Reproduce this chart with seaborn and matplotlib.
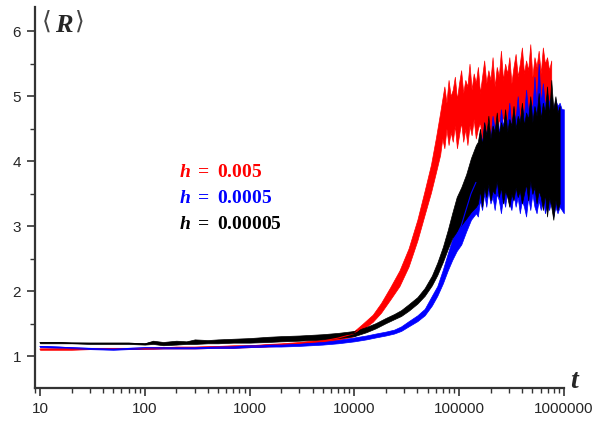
import numpy as np
import pandas as pd
import seaborn as sns
import matplotlib.pyplot as plt
from matplotlib.ticker import LogLocator, MultipleLocator, FixedLocator, NullFormatter


# ----------------------------
# Data: lower / upper edge of each trace
# smooth part (t, lo, hi) + noisy part on a fine grid of log10(t)
# ----------------------------

t_red = [10, 15, 20, 30, 50, 70, 100, 150, 200, 300, 500, 700, 1000, 1500, 2000, 3000, 5000, 7000,
         10000, 12000, 15000, 18000, 22000, 27000, 33000, 40000, 47000, 54000, 60000]
red_lo = [1.10, 1.10, 1.10, 1.11, 1.11, 1.11, 1.11, 1.12, 1.12, 1.12, 1.13, 1.13, 1.14, 1.15, 1.16, 1.18, 1.21, 1.25,
          1.31, 1.41, 1.53, 1.67, 1.87, 2.08, 2.38, 2.78, 3.18, 3.52, 3.82]
red_hi = [1.12, 1.12, 1.12, 1.13, 1.13, 1.13, 1.13, 1.14, 1.15, 1.15, 1.16, 1.17, 1.17, 1.19, 1.20, 1.22, 1.26, 1.31,
          1.39, 1.50, 1.64, 1.82, 2.06, 2.32, 2.66, 3.10, 3.55, 3.95, 4.35]
logt_red_noise = [4.82, 4.84, 4.86, 4.88, 4.90, 4.92, 4.94, 4.96, 4.98, 5.00,
                  5.02, 5.04, 5.06, 5.08, 5.10, 5.12, 5.14, 5.16, 5.18, 5.20,
                  5.22, 5.24, 5.26, 5.28, 5.30, 5.32, 5.34, 5.36, 5.38, 5.40,
                  5.42, 5.44, 5.46, 5.48, 5.50, 5.52, 5.54, 5.56, 5.58, 5.60,
                  5.62, 5.64, 5.66, 5.68, 5.70, 5.72, 5.74, 5.76, 5.78, 5.80,
                  5.82, 5.84, 5.86, 5.88]
red_noise_lo = [4.10, 4.35, 4.20, 4.50, 4.25, 4.45, 4.30, 4.55, 4.20, 4.40,
                4.60, 4.30, 4.50, 4.25, 4.55, 4.40, 4.65, 4.35, 4.50, 4.60,
                4.30, 4.55, 4.45, 4.70, 4.40, 4.60, 4.50, 4.35, 4.65, 4.55,
                4.70, 4.45, 4.60, 4.75, 4.50, 4.65, 4.40, 4.70, 4.55, 4.80,
                4.60, 4.70, 4.50, 4.75, 4.65, 4.80, 4.55, 4.70, 4.60, 4.75,
                4.65, 4.80, 4.70, 4.75]
red_noise_hi = [4.75, 4.95, 5.15, 4.90, 5.25, 5.00, 5.10, 5.30, 4.95, 5.20,
                5.40, 5.05, 5.25, 5.15, 5.50, 5.10, 5.35, 5.20, 5.45, 5.05,
                5.30, 5.55, 5.20, 5.40, 5.25, 5.60, 5.15, 5.45, 5.30, 5.70,
                5.25, 5.50, 5.35, 5.60, 5.20, 5.45, 5.65, 5.30, 5.50, 5.75,
                5.35, 5.55, 5.40, 5.80, 5.30, 5.60, 5.45, 5.70, 5.35, 5.75,
                5.50, 5.60, 5.40, 5.55]

t_blue = [10, 15, 20, 30, 50, 70, 100, 150, 200, 300, 500, 700, 1000, 1500, 2000, 3000, 5000, 7000,
          10000, 13000, 16000, 20000, 24000, 28000, 33000, 40000, 47000, 55000, 62000, 70000, 78000,
          86000, 95000, 105000, 117000, 130000, 145000]
blue_lo = [1.14, 1.13, 1.12, 1.11, 1.10, 1.11, 1.12, 1.12, 1.12, 1.12, 1.13, 1.13, 1.14, 1.15, 1.15, 1.16, 1.18, 1.20,
           1.23, 1.26, 1.29, 1.32, 1.35, 1.39, 1.46, 1.54, 1.63, 1.78, 1.93, 2.12, 2.32,
           2.48, 2.62, 2.72, 2.92, 3.10, 3.20]
blue_hi = [1.16, 1.15, 1.14, 1.13, 1.12, 1.13, 1.14, 1.14, 1.14, 1.14, 1.15, 1.16, 1.17, 1.18, 1.19, 1.20, 1.22, 1.25,
           1.29, 1.32, 1.35, 1.38, 1.41, 1.46, 1.54, 1.63, 1.73, 1.93, 2.08, 2.33, 2.58,
           2.80, 3.10, 3.30, 3.60, 3.90, 4.15]
logt_blue_noise = [5.18, 5.20, 5.22, 5.24, 5.26, 5.28, 5.30, 5.32, 5.34, 5.36,
                   5.38, 5.40, 5.42, 5.44, 5.46, 5.48, 5.50, 5.52, 5.54, 5.56,
                   5.58, 5.60, 5.62, 5.64, 5.66, 5.68, 5.70, 5.72, 5.74, 5.76,
                   5.78, 5.80, 5.82, 5.84, 5.86, 5.88, 5.90, 5.92, 5.94, 5.96,
                   5.98, 6.00]
blue_noise_lo = [3.15, 3.40, 3.25, 3.50, 3.30, 3.55, 3.35, 3.45, 3.25, 3.50,
                 3.40, 3.20, 3.45, 3.30, 3.55, 3.35, 3.25, 3.50, 3.30, 3.45,
                 3.20, 3.40, 3.30, 3.15, 3.45, 3.25, 3.50, 3.30, 3.20, 3.40,
                 3.25, 3.45, 3.20, 3.35, 3.25, 3.40, 3.15, 3.30, 3.20, 3.30,
                 3.25, 3.20]
blue_noise_hi = [4.20, 4.45, 4.30, 4.60, 4.40, 4.55, 4.35, 4.70, 4.50, 4.65,
                 4.45, 4.80, 4.55, 4.70, 4.60, 4.90, 4.50, 4.75, 4.65, 5.00,
                 4.60, 4.85, 4.70, 5.10, 4.75, 4.95, 4.80, 5.30, 4.85, 5.50,
                 4.90, 5.20, 4.85, 5.05, 4.90, 5.00, 4.80, 4.95, 4.85, 4.90,
                 4.80, 4.80]

t_black = [10, 15, 20, 30, 50, 70, 100, 120, 150, 200, 250, 300, 400, 500, 700, 1000, 1500, 2000, 3000, 5000, 7000,
           10000, 13000, 16000, 20000, 24000, 28000, 33000, 40000, 47000, 55000, 62000, 70000, 78000,
           86000, 95000, 105000, 117000, 130000, 145000]
black_lo = [1.20, 1.20, 1.20, 1.19, 1.19, 1.19, 1.18, 1.19, 1.17, 1.18, 1.19, 1.19, 1.20, 1.20, 1.21, 1.21, 1.22,
            1.23, 1.24, 1.26, 1.28,
            1.31, 1.37, 1.43, 1.51, 1.57, 1.62, 1.70, 1.81, 1.93, 2.09, 2.25, 2.45, 2.65,
            2.82, 2.92, 3.02, 3.12, 3.22, 3.30]
black_hi = [1.22, 1.22, 1.21, 1.21, 1.21, 1.21, 1.20, 1.24, 1.22, 1.24, 1.23, 1.26, 1.25, 1.26, 1.27, 1.28, 1.30,
            1.31, 1.32, 1.34, 1.36,
            1.39, 1.45, 1.51, 1.59, 1.65, 1.71, 1.80, 1.91, 2.05, 2.24, 2.44, 2.68, 2.94,
            3.20, 3.45, 3.60, 3.80, 4.05, 4.25]
logt_black_noise = [5.18, 5.20, 5.22, 5.24, 5.26, 5.28, 5.30, 5.32, 5.34, 5.36,
                    5.38, 5.40, 5.42, 5.44, 5.46, 5.48, 5.50, 5.52, 5.54, 5.56,
                    5.58, 5.60, 5.62, 5.64, 5.66, 5.68, 5.70, 5.72, 5.74, 5.76,
                    5.78, 5.80, 5.82, 5.84, 5.86, 5.88, 5.90, 5.92, 5.94, 5.96]
black_noise_lo = [3.35, 3.55, 3.30, 3.60, 3.45, 3.65, 3.40, 3.55, 3.50, 3.70,
                  3.45, 3.60, 3.35, 3.55, 3.45, 3.30, 3.50, 3.40, 3.60, 3.45,
                  3.55, 3.35, 3.50, 3.65, 3.40, 3.70, 3.50, 3.60, 3.35, 3.55,
                  3.45, 3.25, 3.50, 3.15, 3.45, 3.30, 3.10, 3.40, 3.25, 3.35]
black_noise_hi = [4.30, 4.50, 4.25, 4.60, 4.40, 4.70, 4.35, 4.55, 4.45, 4.75,
                  4.40, 4.60, 4.50, 4.80, 4.45, 4.65, 4.55, 4.85, 4.50, 4.70,
                  4.60, 4.90, 4.55, 4.75, 4.65, 5.00, 4.60, 4.85, 4.70, 5.05,
                  4.65, 4.90, 4.75, 5.15, 4.70, 5.25, 4.80, 5.00, 4.75, 4.85]

labels = ["0.005", "0.0005", "0.00005"]
colors = ["#ff0000", "#0000ff", "#000000"]


# ----------------------------
# Style
# ----------------------------

sns.set_style("ticks")
plt.rcParams["font.family"] = ["Liberation Sans", "DejaVu Sans"]
plt.rcParams["mathtext.fontset"] = "custom"
plt.rcParams["mathtext.rm"] = "Liberation Serif:bold"
plt.rcParams["mathtext.it"] = "Liberation Serif:italic:bold"
plt.rcParams["mathtext.bf"] = "Liberation Serif:italic:bold"

fig = plt.figure(figsize=(6.03, 4.21), dpi=100)
ax = fig.add_axes([0.058, 0.078, 0.877, 0.905])


# ----------------------------
# Traces (red below, black on top)
# ----------------------------

series = [
    (t_red, red_lo, red_hi, logt_red_noise, red_noise_lo, red_noise_hi),
    (t_blue, blue_lo, blue_hi, logt_blue_noise, blue_noise_lo, blue_noise_hi),
    (t_black, black_lo, black_hi, logt_black_noise, black_noise_lo, black_noise_hi),
]

for (t, lo, hi, lt_n, lo_n, hi_n), col in zip(series, colors):
    t_all = np.concatenate([t, 10.0 ** np.array(lt_n)])
    lo_all = np.concatenate([lo, lo_n])
    hi_all = np.concatenate([hi, hi_n])
    ax.fill_between(t_all, lo_all, hi_all, color=col, linewidth=0.5, edgecolor=col)
    d = pd.DataFrame({"t": t, "R": (np.array(lo) + np.array(hi)) / 2})
    sns.lineplot(data=d, x="t", y="R", color=col, linewidth=0.8, ax=ax)

ax.set_xscale("log")
ax.set_xlim(8.96, 1e6)
ax.set_ylim(0.51, 6.37)

ax.xaxis.set_major_locator(FixedLocator([10, 100, 1000, 10000, 100000, 1000000]))
ax.set_xticklabels(["10", "100", "1000", "10000", "100000", "1000000"])
ax.xaxis.set_minor_locator(LogLocator(base=10, subs=np.arange(2, 10)))
ax.xaxis.set_minor_formatter(NullFormatter())
ax.yaxis.set_major_locator(MultipleLocator(1))
ax.yaxis.set_minor_locator(MultipleLocator(0.5))

ax.set_xlabel("")
ax.set_ylabel("")
sns.despine(ax=ax)
for side in ["left", "bottom"]:
    ax.spines[side].set_color("#333333")
    ax.spines[side].set_linewidth(1.6)
ax.tick_params(which="major", direction="out", length=6, width=1.2, color="#333333",
               labelsize=11, pad=4)
ax.tick_params(which="minor", direction="out", length=3.5, width=1.0, color="#333333")


# ----------------------------
# Annotations
# ----------------------------

# <R> in the top-left corner, t at the end of the x axis
fig.text(42 / 603, 1 - 29 / 421, "\u27e8", family="DejaVu Sans", fontsize=18,
         color="#444444", ha="left", va="baseline")
fig.text(55 / 603, 1 - 32 / 421, r"$R$", fontsize=19, ha="left", va="baseline")
fig.text(75 / 603, 1 - 29 / 421, "\u27e9", family="DejaVu Sans", fontsize=18,
         color="#444444", ha="left", va="baseline")
fig.text(570 / 603, 1 - 388 / 421, r"$t$", fontsize=20, ha="left", va="baseline")

for i, (lab, col) in enumerate(zip(labels, colors)):
    ax.text(0.272, 0.554 - i * 0.068, r"$h\ =\ $" + lab, transform=ax.transAxes,
            color=col, fontsize=14, fontweight="bold", family="Liberation Serif",
            ha="left", va="baseline")

plt.savefig("out.png", dpi=100)
plt.close()
